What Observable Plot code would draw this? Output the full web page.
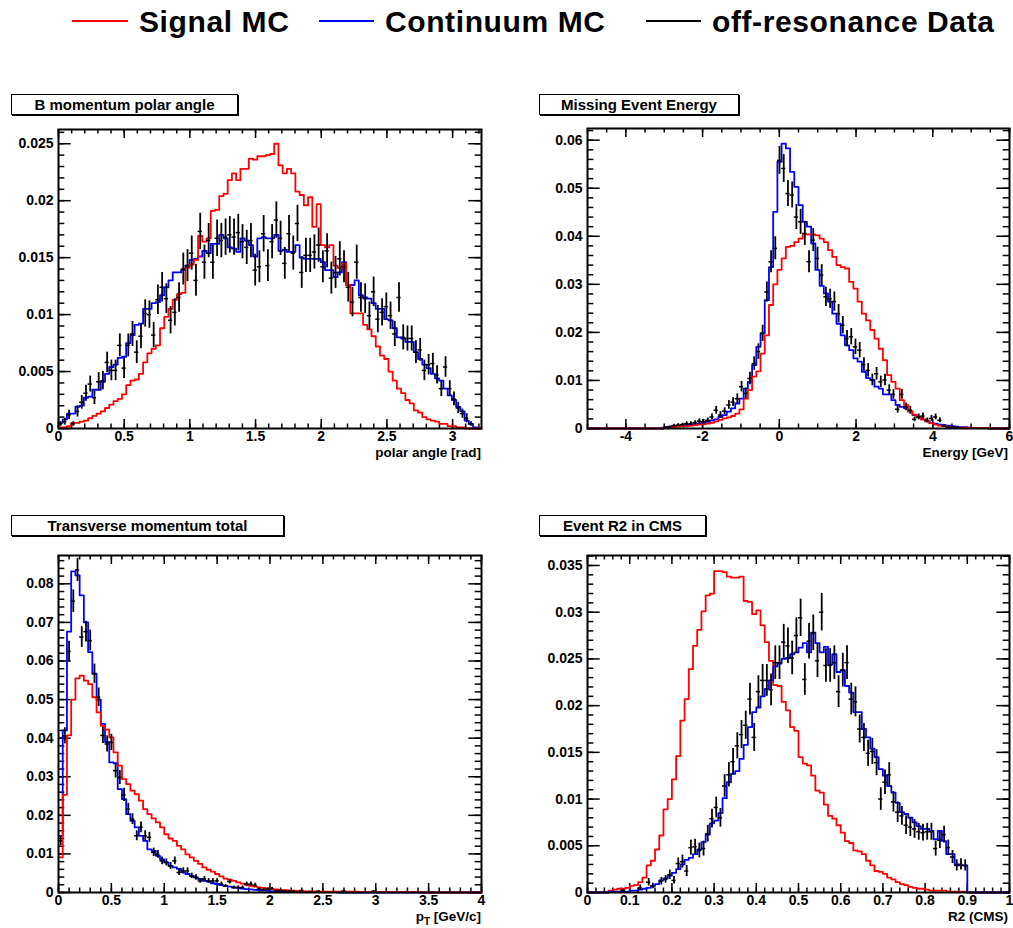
<!DOCTYPE html>
<html>
<head>
<meta charset="utf-8">
<script src="https://cdn.jsdelivr.net/npm/d3@7"></script>
<script src="https://cdn.jsdelivr.net/npm/@observablehq/plot@0.6"></script>
<style>
  html, body { margin: 0; padding: 0; background: #fff; }
  #page { position: relative; width: 1013px; height: 928px; overflow: hidden; background: #fff;
          font-family: "Liberation Sans", Arial, Helvetica, sans-serif; color: #000; }
  .leg-line { position: absolute; height: 0; border-top: 2px solid; }
  .leg-text { position: absolute; font-weight: bold; font-size: 30px; line-height: 30px;
              letter-spacing: 0.6px; white-space: nowrap; }
  .title { position: absolute; box-sizing: border-box; height: 21px; border: 1px solid #000;
           box-shadow: 1px 1px 0 #000; background: #fff; font-weight: bold; font-size: 15px;
           line-height: 19px; text-align: center; white-space: nowrap; }
  .panel { position: absolute; }
  .panel svg { display: block; overflow: visible; }
  .axlabel { position: absolute; font-weight: bold; font-size: 13.5px; line-height: 13px;
             white-space: nowrap; text-align: right; }
  .axlabel sub { font-size: 10px; vertical-align: -4px; line-height: 0; }
</style>
</head>
<body>
<div id="page"></div>
<script>
// ---------------- legend ----------------
const seriesNames = ["Signal MC", "Continuum MC", "off-resonance Data"];
const seriesColors = ["#ff0000", "#0000ff", "#000000"];

// ---------------- panel titles / axis labels ----------------
const panelTitles = ["B momentum polar angle", "Missing Event Energy", "Transverse momentum total", "Event R2 in CMS"];
const axisTitles = ["polar angle [rad]", "Energy [GeV]", "p<sub>T</sub> [GeV/c]", "R2 (CMS)"];

// ---------------- tick labels ----------------
const angleXTicks = [0, 0.5, 1, 1.5, 2, 2.5, 3];
const angleYTicks = [0, 0.005, 0.01, 0.015, 0.02, 0.025];
const energyXTicks = [-4, -2, 0, 2, 4, 6];
const energyYTicks = [0, 0.01, 0.02, 0.03, 0.04, 0.05, 0.06];
const ptXTicks = [0, 0.5, 1, 1.5, 2, 2.5, 3, 3.5, 4];
const ptYTicks = [0, 0.01, 0.02, 0.03, 0.04, 0.05, 0.06, 0.07, 0.08];
const r2XTicks = [0, 0.1, 0.2, 0.3, 0.4, 0.5, 0.6, 0.7, 0.8, 0.9, 1];
const r2YTicks = [0, 0.005, 0.01, 0.015, 0.02, 0.025, 0.03, 0.035];

// ---------------- histogram ranges (100 bins each) ----------------
const angleRange = [0, 3.22];
const energyRange = [-5, 6];
const ptRange = [0, 4];
const r2Range = [0, 1];

// ---------------- B momentum polar angle ----------------
const angleSignal = [
  0.0001,0.0001,0.0002,0.0005,0.0005,0.0006,0.0007,0.0009,0.0011,0.0013,
  0.0015,0.0018,0.0021,0.0024,0.0026,0.0030,0.0038,0.0042,0.0043,0.0048,
  0.0058,0.0066,0.0070,0.0073,0.0088,0.0098,0.0105,0.0113,0.0118,0.0119,
  0.0141,0.0144,0.0148,0.0169,0.0164,0.0167,0.0191,0.0192,0.0204,0.0206,
  0.0218,0.0224,0.0218,0.0228,0.0228,0.0237,0.0236,0.0239,0.0239,0.0240,
  0.0241,0.0250,0.0231,0.0224,0.0228,0.0224,0.0208,0.0205,0.0196,0.0203,
  0.0177,0.0197,0.0161,0.0159,0.0161,0.0143,0.0141,0.0145,0.0126,0.0101,
  0.0101,0.0101,0.0091,0.0087,0.0081,0.0072,0.0064,0.0061,0.0050,0.0042,
  0.0035,0.0031,0.0025,0.0022,0.0016,0.0014,0.0010,0.0008,0.0007,0.0006,
  0.0004,0.0004,0.0002,0.0002,0.0001,0.0001,0,0,0,0];
const angleContinuum = [
  0.0005,0.0008,0.0013,0.0013,0.0019,0.0020,0.0027,0.0028,0.0034,0.0034,
  0.0041,0.0048,0.0054,0.0056,0.0062,0.0063,0.0075,0.0082,0.0091,0.0092,
  0.0105,0.0105,0.0110,0.0111,0.0117,0.0124,0.0130,0.0137,0.0137,0.0139,
  0.0143,0.0148,0.0149,0.0151,0.0156,0.0154,0.0162,0.0162,0.0170,0.0167,
  0.0159,0.0158,0.0155,0.0167,0.0165,0.0161,0.0151,0.0167,0.0168,0.0167,
  0.0167,0.0170,0.0156,0.0157,0.0155,0.0155,0.0161,0.0150,0.0149,0.0149,
  0.0149,0.0149,0.0146,0.0139,0.0139,0.0133,0.0137,0.0146,0.0126,0.0126,
  0.0130,0.0117,0.0115,0.0114,0.0110,0.0105,0.0105,0.0096,0.0095,0.0088,
  0.0080,0.0079,0.0076,0.0076,0.0067,0.0061,0.0056,0.0053,0.0048,0.0044,
  0.0042,0.0035,0.0029,0.0025,0.0019,0.0015,0.0007,0.0004,0.0001,0];
const angleData = [
  0.0004,0.0006,0.0012,0.0004,0.0015,0.0023,0.0031,0.0039,0.0027,0.0041,
  0.0042,0.0058,0.0051,0.0051,0.0073,0.0053,0.0073,0.0083,0.0067,0.0081,
  0.0101,0.0100,0.0082,0.0113,0.0124,0.0114,0.0095,0.0102,0.0115,0.0140,
  0.0143,0.0154,0.0130,0.0173,0.0146,0.0165,0.0146,0.0167,0.0165,0.0168,
  0.0170,0.0168,0.0172,0.0164,0.0159,0.0165,0.0139,0.0142,0.0171,0.0143,
  0.0164,0.0183,0.0167,0.0145,0.0171,0.0154,0.0180,0.0137,0.0152,0.0152,
  0.0155,0.0161,0.0142,0.0156,0.0132,0.0137,0.0149,0.0142,0.0124,0.0111,
  0.0146,0.0115,0.0114,0.0099,0.0120,0.0096,0.0102,0.0107,0.0099,0.0083,
  0.0115,0.0080,0.0079,0.0079,0.0067,0.0069,0.0051,0.0056,0.0057,0.0047,
  0.0035,0.0054,0.0035,0.0026,0.0018,0.0013,0.0009,0.0004,null,null];
const angleDataErr = [
  0.0002,0.0003,0.0004,0.0002,0.0005,0.0006,0.0007,0.0007,0.0006,0.0008,
  0.0008,0.0009,0.0009,0.0009,0.0010,0.0009,0.0010,0.0011,0.0010,0.0011,
  0.0012,0.0012,0.0011,0.0013,0.0013,0.0013,0.0012,0.0012,0.0013,0.0014,
  0.0014,0.0015,0.0014,0.0016,0.0015,0.0015,0.0015,0.0016,0.0015,0.0016,
  0.0016,0.0016,0.0016,0.0015,0.0015,0.0015,0.0014,0.0014,0.0016,0.0014,
  0.0015,0.0016,0.0015,0.0014,0.0016,0.0015,0.0016,0.0014,0.0015,0.0015,
  0.0015,0.0015,0.0014,0.0015,0.0014,0.0014,0.0015,0.0014,0.0013,0.0013,
  0.0015,0.0013,0.0013,0.0012,0.0013,0.0012,0.0012,0.0012,0.0012,0.0011,
  0.0013,0.0011,0.0011,0.0011,0.0010,0.0010,0.0009,0.0009,0.0009,0.0008,
  0.0007,0.0009,0.0007,0.0006,0.0005,0.0004,0.0004,0.0002,null,null];

// ---------------- Missing Event Energy ----------------
const energySignal = [
  0,0,0,0,0,0,0,0,0,0,
  0,0,0,0,0,0,0,0,0.0002,0.0003,
  0.0003,0.0004,0.0005,0.0005,0.0006,0.0007,0.0008,0.0009,0.0010,0.0012,
  0.0015,0.0018,0.0021,0.0023,0.0026,0.0031,0.0040,0.0062,0.0080,0.0108,
  0.0119,0.0156,0.0194,0.0257,0.0300,0.0330,0.0354,0.0378,0.0380,0.0388,
  0.0395,0.0404,0.0404,0.0404,0.0402,0.0395,0.0388,0.0371,0.0357,0.0340,
  0.0336,0.0333,0.0305,0.0291,0.0264,0.0239,0.0225,0.0205,0.0187,0.0166,
  0.0142,0.0111,0.0097,0.0083,0.0059,0.0049,0.0036,0.0029,0.0024,0.0019,
  0.0015,0.0011,0.0008,0.0006,0.0005,0.0003,0.0002,0.0002,0.0002,0.0002,
  0.0002,0.0001,0.0001,0.0001,0.0001,0,0,0,0,0];
const energyContinuum = [
  0,0,0,0,0,0,0,0,0,0,
  0,0,0,0,0,0,0,0,0.0003,0.0004,
  0.0005,0.0005,0.0006,0.0007,0.0008,0.0009,0.0010,0.0012,0.0014,0.0017,
  0.0019,0.0024,0.0028,0.0035,0.0042,0.0052,0.0062,0.0083,0.0097,0.0132,
  0.0170,0.0198,0.0267,0.0336,0.0451,0.0555,0.0593,0.0583,0.0534,0.0503,
  0.0465,0.0430,0.0420,0.0385,0.0330,0.0297,0.0281,0.0264,0.0239,0.0218,
  0.0194,0.0173,0.0163,0.0146,0.0139,0.0118,0.0105,0.0101,0.0087,0.0083,
  0.0071,0.0071,0.0059,0.0049,0.0045,0.0042,0.0035,0.0028,0.0023,0.0019,
  0.0015,0.0012,0.0010,0.0008,0.0007,0.0006,0.0005,0.0004,0.0003,0.0003,
  0.0002,0.0001,0.0001,0.0001,0.0001,0,0,0,0,0];
const energyData = [
  null,null,null,null,null,null,null,null,null,null,
  null,null,null,null,null,null,null,null,0.0002,0.0003,
  0.0006,0.0007,0.0008,0.0010,0.0010,0.0012,0.0015,0.0014,0.0017,0.0024,
  0.0038,0.0028,0.0036,0.0049,0.0055,0.0062,0.0087,0.0073,0.0104,0.0135,
  0.0160,0.0198,0.0284,0.0347,0.0375,0.0558,0.0541,0.0489,0.0486,0.0440,
  0.0430,0.0406,0.0347,0.0392,0.0354,0.0319,0.0274,0.0270,0.0264,0.0239,
  0.0215,0.0187,0.0191,0.0170,0.0163,0.0133,0.0121,0.0101,0.0114,0.0097,
  0.0101,0.0080,0.0071,0.0040,0.0071,0.0045,0.0038,0.0019,0.0024,0.0026,
  0.0017,0.0021,0.0024,0.0017,0.0005,0.0003,0.0002,0.0002,0.0001,null,
  null,null,null,null,null,null,null,null,null,null];
const energyDataErr = [
  null,null,null,null,null,null,null,null,null,null,
  null,null,null,null,null,null,null,null,0.0002,0.0002,
  0.0003,0.0003,0.0003,0.0004,0.0004,0.0004,0.0005,0.0005,0.0005,0.0006,
  0.0008,0.0007,0.0007,0.0009,0.0009,0.0010,0.0011,0.0011,0.0013,0.0014,
  0.0016,0.0017,0.0021,0.0023,0.0024,0.0029,0.0029,0.0027,0.0027,0.0026,
  0.0026,0.0025,0.0023,0.0024,0.0023,0.0022,0.0020,0.0020,0.0020,0.0019,
  0.0018,0.0017,0.0017,0.0016,0.0016,0.0014,0.0014,0.0012,0.0013,0.0012,
  0.0012,0.0011,0.0010,0.0008,0.0010,0.0008,0.0008,0.0005,0.0006,0.0006,
  0.0005,0.0006,0.0006,0.0005,0.0003,0.0002,0.0002,0.0002,0.0001,null,
  null,null,null,null,null,null,null,null,null,null];

// ---------------- Transverse momentum total ----------------
const ptSignal = [
  0.0091,0.0253,0.0407,0.0500,0.0555,0.0562,0.0549,0.0540,0.0506,0.0467,
  0.0432,0.0422,0.0402,0.0363,0.0329,0.0294,0.0281,0.0264,0.0255,0.0238,
  0.0216,0.0203,0.0192,0.0182,0.0169,0.0151,0.0140,0.0134,0.0121,0.0112,
  0.0099,0.0091,0.0082,0.0074,0.0065,0.0059,0.0054,0.0048,0.0042,0.0036,
  0.0033,0.0030,0.0026,0.0023,0.0020,0.0017,0.0015,0.0013,0.0012,0.0010,
  0.0009,0.0008,0.0007,0.0006,0.0005,0.0005,0.0004,0.0004,0.0003,0.0003,
  0.0003,0.0002,0.0002,0.0002,0.0002,0.0002,0.0002,0.0002,0.0002,0.0002,
  0.0002,0.0001,0.0001,0.0001,0.0001,0.0001,0.0001,0.0001,0.0001,0.0001,
  0.0001,0.0001,0.0001,0.0001,0.0001,0.0001,0,0,0,0,
  0,0,0,0,0,0,0,0,0,0];
const ptContinuum = [
  0.0147,0.0420,0.0676,0.0832,0.0822,0.0770,0.0700,0.0623,0.0567,0.0500,
  0.0437,0.0390,0.0337,0.0335,0.0268,0.0242,0.0203,0.0186,0.0169,0.0147,
  0.0134,0.0112,0.0108,0.0095,0.0086,0.0078,0.0069,0.0065,0.0061,0.0052,
  0.0048,0.0043,0.0039,0.0035,0.0030,0.0028,0.0024,0.0022,0.0019,0.0017,
  0.0015,0.0013,0.0012,0.0010,0.0009,0.0008,0.0007,0.0006,0.0005,0.0004,
  0.0003,0.0002,0.0002,0.0002,0.0002,0.0002,0.0001,0.0001,0.0001,0.0001,
  0.0001,0.0001,0.0001,0.0001,0.0001,0.0001,0,0,0,0,
  0,0,0,0,0,0,0,0,0,0,
  0,0,0,0,0,0,0,0,0,0,
  0,0,0,0,0,0,0,0,0,0];
const ptData = [
  0.0134,0.0406,0.0625,0.0755,0.0836,0.0662,0.0676,0.0653,0.0567,0.0506,
  0.0407,0.0385,0.0389,0.0316,0.0298,0.0253,0.0216,0.0190,0.0147,0.0169,
  0.0147,0.0143,0.0104,0.0099,0.0082,0.0078,0.0069,0.0082,0.0052,0.0056,
  0.0056,0.0043,0.0039,0.0030,0.0035,0.0030,0.0030,0.0030,0.0022,0.0017,
  0.0028,0.0013,0.0013,0.0013,0.0022,0.0022,0.0019,0.0009,0.0007,0.0009,
  0.0010,0.0004,0.0005,0.0003,0.0004,0.0003,null,0.0005,null,0.0002,
  null,0.0003,null,null,null,null,null,0.0004,null,null,
  null,null,null,null,0.0003,null,null,null,null,null,
  null,null,null,null,null,null,null,null,null,null,
  null,null,null,null,null,null,null,null,null,null];
const ptDataErr = [
  0.0012,0.0021,0.0026,0.0029,0.0030,0.0027,0.0027,0.0027,0.0025,0.0024,
  0.0021,0.0021,0.0021,0.0019,0.0018,0.0017,0.0015,0.0014,0.0013,0.0014,
  0.0013,0.0013,0.0011,0.0010,0.0010,0.0009,0.0009,0.0010,0.0008,0.0008,
  0.0008,0.0007,0.0007,0.0006,0.0006,0.0006,0.0006,0.0006,0.0005,0.0004,
  0.0006,0.0004,0.0004,0.0004,0.0005,0.0005,0.0005,0.0003,0.0003,0.0003,
  0.0003,0.0002,0.0002,0.0002,0.0002,0.0002,null,0.0002,null,0.0001,
  null,0.0002,null,null,null,null,null,0.0002,null,null,
  null,null,null,null,0.0002,null,null,null,null,null,
  null,null,null,null,null,null,null,null,null,null,
  null,null,null,null,null,null,null,null,null,null];

// ---------------- Event R2 in CMS ----------------
const r2Signal = [
  0,0,0,0,0,0.0002,0.0003,0.0004,0.0004,0.0005,
  0.0007,0.0008,0.0011,0.0016,0.0029,0.0034,0.0046,0.0061,0.0089,0.0100,
  0.0121,0.0146,0.0184,0.0207,0.0239,0.0264,0.0281,0.0301,0.0318,0.0320,
  0.0344,0.0344,0.0343,0.0338,0.0337,0.0337,0.0338,0.0312,0.0311,0.0298,
  0.0302,0.0286,0.0268,0.0248,0.0222,0.0221,0.0204,0.0195,0.0177,0.0173,
  0.0145,0.0138,0.0136,0.0125,0.0109,0.0107,0.0094,0.0082,0.0079,0.0072,
  0.0064,0.0055,0.0053,0.0045,0.0044,0.0041,0.0034,0.0029,0.0023,0.0022,
  0.0020,0.0016,0.0014,0.0011,0.0009,0.0008,0.0006,0.0005,0.0004,0.0004,
  0.0003,0.0002,0.0002,0.0002,0.0002,0.0001,0.0001,0.0001,0.0001,0.0001,
  0,0,0,0,0,0,0,0,0,0];
const r2Continuum = [
  0,0,0,0,0,0.0001,0.0001,0.0001,0.0001,0.0001,
  0.0002,0.0002,0.0003,0.0004,0.0005,0.0007,0.0009,0.0013,0.0015,0.0018,
  0.0021,0.0025,0.0030,0.0035,0.0037,0.0041,0.0046,0.0054,0.0062,0.0074,
  0.0077,0.0085,0.0101,0.0118,0.0127,0.0130,0.0143,0.0158,0.0177,0.0193,
  0.0198,0.0210,0.0218,0.0227,0.0242,0.0245,0.0250,0.0251,0.0255,0.0257,
  0.0262,0.0267,0.0257,0.0278,0.0267,0.0257,0.0263,0.0244,0.0255,0.0236,
  0.0238,0.0221,0.0214,0.0193,0.0193,0.0175,0.0166,0.0154,0.0145,0.0132,
  0.0125,0.0114,0.0107,0.0096,0.0086,0.0084,0.0080,0.0075,0.0071,0.0068,
  0.0068,0.0066,0.0057,0.0066,0.0055,0.0041,0.0041,0.0030,0.0029,0.0029,
  0,0,0,0,0,0,0,0,0,0];
const r2Data = [
  null,null,null,null,null,null,null,null,0.0002,null,
  null,null,0.0005,null,0.0011,0.0007,null,0.0012,0.0014,0.0019,
  0.0013,0.0031,0.0033,0.0023,0.0048,0.0049,0.0045,0.0047,0.0063,0.0079,
  0.0091,0.0080,0.0114,0.0126,0.0140,0.0157,0.0169,0.0179,0.0207,0.0166,
  0.0215,0.0227,0.0227,0.0217,0.0246,0.0246,0.0268,0.0264,0.0251,0.0275,
  0.0294,0.0228,0.0269,0.0278,0.0248,0.0300,0.0243,0.0243,0.0246,0.0215,
  0.0238,0.0246,0.0207,0.0204,0.0175,0.0166,0.0149,0.0151,0.0139,0.0100,
  0.0118,0.0126,0.0097,0.0086,0.0082,0.0072,0.0070,0.0068,0.0065,0.0064,
  0.0065,0.0065,0.0047,0.0056,0.0062,0.0048,0.0038,0.0029,0.0030,0.0029,
  null,null,null,null,null,null,null,null,null,null];
const r2DataErr = [
  null,null,null,null,null,null,null,null,0.0002,null,
  null,null,0.0003,null,0.0004,0.0003,null,0.0004,0.0004,0.0005,
  0.0004,0.0006,0.0007,0.0006,0.0008,0.0008,0.0008,0.0008,0.0009,0.0010,
  0.0011,0.0010,0.0012,0.0013,0.0014,0.0014,0.0015,0.0015,0.0017,0.0015,
  0.0017,0.0017,0.0017,0.0017,0.0018,0.0018,0.0019,0.0019,0.0018,0.0019,
  0.0020,0.0017,0.0019,0.0019,0.0018,0.0020,0.0018,0.0018,0.0018,0.0017,
  0.0018,0.0018,0.0017,0.0016,0.0015,0.0015,0.0014,0.0014,0.0014,0.0012,
  0.0013,0.0013,0.0011,0.0011,0.0010,0.0010,0.0010,0.0010,0.0009,0.0009,
  0.0009,0.0009,0.0008,0.0009,0.0009,0.0008,0.0007,0.0006,0.0006,0.0006,
  null,null,null,null,null,null,null,null,null,null];

// ---------------- helpers ----------------
function stepPoints(range, vals) {
  const [lo, hi] = range, w = (hi - lo) / vals.length;
  const pts = vals.map((v, i) => ({x: lo + i * w, y: v}));
  pts.push({x: hi, y: vals[vals.length - 1]});
  return pts;
}
function dataPoints(range, vals, errs) {
  const [lo, hi] = range, w = (hi - lo) / vals.length;
  const out = [];
  vals.forEach((v, i) => {
    if (v != null) out.push({x0: lo + i * w, x1: lo + (i + 1) * w, xc: lo + (i + 0.5) * w, v, e: errs[i]});
  });
  return out;
}
function minorTicks(lo, hi, step) {
  const n = Math.round((hi - lo) / step);
  return d3.range(n + 1).map(i => +(lo + i * step).toFixed(6));
}

const panels = [
  {left: 0, top: 124, width: 500, height: 345, mt: 5, mb: 41, ml: 58, mr: 19,
   range: angleRange, yMax: 0.02625, xTicks: angleXTicks, yTicks: angleYTicks,
   xMinor: minorTicks(0, 3.2, 0.1), yMinor: minorTicks(0, 0.026, 0.001),
   signal: angleSignal, continuum: angleContinuum, data: angleData, err: angleDataErr, blueOnTop: false,
   title: {left: 11, top: 94, width: 227}, axis: {right: 532, top: 446}},
  {left: 510, top: 124, width: 503, height: 345, mt: 4, mb: 41, ml: 77, mr: 4,
   range: energyRange, yMax: 0.06243, xTicks: energyXTicks, yTicks: energyYTicks,
   xMinor: minorTicks(-5, 6, 0.5), yMinor: minorTicks(0, 0.062, 0.002),
   signal: energySignal, continuum: energyContinuum, data: energyData, err: energyDataErr, blueOnTop: false,
   title: {left: 539, top: 94, width: 200}, axis: {right: 5, top: 446}},
  {left: 0, top: 550, width: 500, height: 378, mt: 5, mb: 36, ml: 58, mr: 19,
   range: ptRange, yMax: 0.08734, xTicks: ptXTicks, yTicks: ptYTicks,
   xMinor: minorTicks(0, 4, 0.1), yMinor: minorTicks(0, 0.086, 0.002),
   signal: ptSignal, continuum: ptContinuum, data: ptData, err: ptDataErr, blueOnTop: false,
   title: {left: 11, top: 515, width: 273}, axis: {right: 532, top: 910}},
  {left: 510, top: 550, width: 503, height: 378, mt: 5, mb: 36, ml: 77, mr: 4,
   range: r2Range, yMax: 0.03607, xTicks: r2XTicks, yTicks: r2YTicks,
   xMinor: minorTicks(0, 1, 0.02), yMinor: minorTicks(0, 0.036, 0.001),
   signal: r2Signal, continuum: r2Continuum, data: r2Data, err: r2DataErr, blueOnTop: true,
   title: {left: 539, top: 515, width: 167}, axis: {right: 5, top: 910}}
];

const page = document.getElementById("page");

// legend
const legendLayout = [
  {lineLeft: 72, lineWidth: 56, textLeft: 139},
  {lineLeft: 319, lineWidth: 55, textLeft: 385},
  {lineLeft: 646, lineWidth: 55, textLeft: 712}
];
seriesNames.forEach((name, i) => {
  const line = document.createElement("div");
  line.className = "leg-line";
  line.style.left = legendLayout[i].lineLeft + "px";
  line.style.width = legendLayout[i].lineWidth + "px";
  line.style.top = "20px";
  line.style.borderTopColor = seriesColors[i];
  page.appendChild(line);
  const t = document.createElement("div");
  t.className = "leg-text";
  t.style.left = legendLayout[i].textLeft + "px";
  t.style.top = "7px";
  t.textContent = name;
  page.appendChild(t);
});

const fmt = d => String(d);

panels.forEach((p, idx) => {
  const fh = p.height - p.mt - p.mb, fw = p.width - p.ml - p.mr;
  const [lo, hi] = p.range, xs = hi - lo, yM = p.yMax;
  const tMajX = yM * 9 / fh, tMinX = yM * 4.5 / fh;
  const tMajY = xs * 12.7 / fw, tMinY = xs * 6.3 / fw;
  const tick = {stroke: "#000", strokeWidth: 1.5};
  const sig = Plot.line(stepPoints(p.range, p.signal), {x: "x", y: "y", curve: "step-after", stroke: "#ff0000", strokeWidth: 1.8});
  const con = Plot.line(stepPoints(p.range, p.continuum), {x: "x", y: "y", curve: "step-after", stroke: "#0000ff", strokeWidth: 1.8});
  const dp = dataPoints(p.range, p.data, p.err);
  const chart = Plot.plot({
    width: p.width, height: p.height,
    marginTop: p.mt, marginBottom: p.mb, marginLeft: p.ml, marginRight: p.mr,
    x: {domain: [lo, hi]},
    y: {domain: [0, yM]},
    style: {fontFamily: '"Liberation Sans", Arial, Helvetica, sans-serif', fontSize: "14px", fontWeight: "bold",
            color: "#000", background: "transparent", overflow: "visible"},
    marks: [
      Plot.ruleX(p.xMinor, {x: d => d, y1: () => 0, y2: () => tMinX, ...tick}),
      Plot.ruleX(p.xMinor, {x: d => d, y1: () => yM, y2: () => yM - tMinX, ...tick}),
      Plot.ruleX(p.xTicks, {x: d => d, y1: () => 0, y2: () => tMajX, ...tick}),
      Plot.ruleX(p.xTicks, {x: d => d, y1: () => yM, y2: () => yM - tMajX, ...tick}),
      Plot.ruleY(p.yMinor, {y: d => d, x1: () => lo, x2: () => lo + tMinY, ...tick}),
      Plot.ruleY(p.yMinor, {y: d => d, x1: () => hi, x2: () => hi - tMinY, ...tick}),
      Plot.ruleY(p.yTicks, {y: d => d, x1: () => lo, x2: () => lo + tMajY, ...tick}),
      Plot.ruleY(p.yTicks, {y: d => d, x1: () => hi, x2: () => hi - tMajY, ...tick}),
      ...(p.blueOnTop ? [sig, con] : [con, sig]),
      Plot.ruleX(dp, {x: "xc", y1: d => Math.max(0, d.v - d.e), y2: d => d.v + d.e, stroke: "#000", strokeWidth: 1.8}),
      Plot.ruleY(dp, {y: "v", x1: "x0", x2: "x1", stroke: "#000", strokeWidth: 1.5}),
      Plot.frame({stroke: "#000", strokeWidth: 2}),
      Plot.axisX({anchor: "bottom", ticks: p.xTicks, tickSize: 0, tickPadding: 3, tickFormat: fmt, label: null}),
      Plot.axisY({anchor: "left", ticks: p.yTicks, tickSize: 0, tickPadding: 5, tickFormat: fmt, label: null})
    ]
  });
  const holder = document.createElement("div");
  holder.className = "panel";
  holder.style.left = p.left + "px";
  holder.style.top = p.top + "px";
  holder.appendChild(chart);
  page.appendChild(holder);

  const t = document.createElement("div");
  t.className = "title";
  t.style.left = p.title.left + "px";
  t.style.top = p.title.top + "px";
  t.style.width = p.title.width + "px";
  t.textContent = panelTitles[idx];
  page.appendChild(t);

  const a = document.createElement("div");
  a.className = "axlabel";
  a.style.right = p.axis.right + "px";
  a.style.top = p.axis.top + "px";
  a.innerHTML = axisTitles[idx];
  page.appendChild(a);
});
</script>
</body>
</html>
